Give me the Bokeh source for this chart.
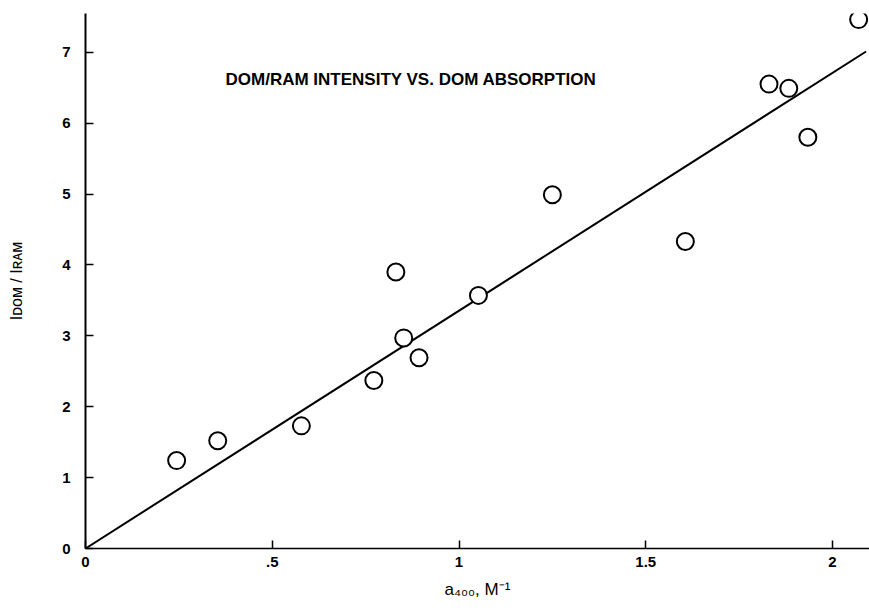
from bokeh.plotting import figure
from bokeh.models import FixedTicker, Label, Range1d
from bokeh.embed import file_html
from bokeh.resources import INLINE

# ---- data ----
a400 = [0.244, 0.354, 0.578, 0.772, 0.831, 0.852, 0.893, 1.052, 1.250, 1.606, 1.830, 1.883, 1.934, 2.070]
ratio = [1.24, 1.52, 1.73, 2.37, 3.90, 2.97, 2.69, 3.57, 4.99, 4.33, 6.55, 6.49, 5.80, 7.46]
fit_x = [0.0, 2.09]
fit_y = [0.0, 7.01]
x_ticks = [0, 0.5, 1, 1.5, 2]
x_tick_labels = ["0", ".5", "1", "1.5", "2"]
y_ticks = [0, 1, 2, 3, 4, 5, 6, 7]
y_tick_labels = ["0", "1", "2", "3", "4", "5", "6", "7"]
title_text = "DOM/RAM INTENSITY VS. DOM ABSORPTION"
x_label = "a\u2084\u2080\u2080, M\u207b\u00b9"
y_label = "I\u1d05\u1d0f\u1d0d / I\u0280\u1d00\u1d0d"

FONT = "Liberation Sans"
PX_X = 373.5   # pixels per x unit
PX_Y = 70.9    # pixels per y unit
W, H = 869, 608
LEFT, TOP, BOTTOM_AXIS = 85, 13, 548

p = figure(width=W, height=H, output_backend="svg", toolbar_location=None,
           x_range=Range1d(0, (W - LEFT) / PX_X),
           y_range=Range1d(0, (BOTTOM_AXIS - TOP) / PX_Y),
           min_border_left=LEFT, min_border_right=0, min_border_top=TOP,
           min_border_bottom=H - BOTTOM_AXIS)
p.outline_line_color = None
p.xgrid.visible = False
p.ygrid.visible = False
p.background_fill_color = "white"
p.border_fill_color = "white"

for ax in (p.xaxis[0], p.yaxis[0]):
    ax.axis_line_color = "black"
    ax.major_tick_line_color = "black"
    ax.minor_tick_line_color = None
    ax.major_tick_in = 8
    ax.major_tick_out = 0
    ax.major_label_text_font = FONT
    ax.major_label_text_font_size = "15px"
    ax.major_label_text_font_style = "bold"
    ax.major_label_text_color = "black"
    ax.major_tick_line_width = 1.5
    ax.axis_label_text_font = FONT
    ax.axis_label_text_font_style = "normal"
    ax.axis_label_text_color = "black"

p.xaxis[0].axis_line_width = 1.5
p.yaxis[0].axis_line_width = 2
p.xaxis[0].ticker = FixedTicker(ticks=x_ticks)
p.xaxis[0].major_label_overrides = {t: l for t, l in zip(x_ticks, x_tick_labels)}
p.yaxis[0].ticker = FixedTicker(ticks=y_ticks)
p.yaxis[0].major_label_overrides = {t: l for t, l in zip(y_ticks, y_tick_labels)}
p.xaxis[0].major_label_standoff = 8
p.yaxis[0].major_label_standoff = 15

p.xaxis[0].axis_label = x_label
p.xaxis[0].axis_label_text_font_size = "17px"
p.xaxis[0].axis_label_standoff = 10
p.yaxis[0].axis_label = y_label
p.yaxis[0].axis_label_text_font_size = "16px"
p.yaxis[0].axis_label_standoff = 34

p.line(fit_x, fit_y, line_color="black", line_width=2)
p.scatter(a400, ratio, size=17, marker="circle", fill_color="white",
          line_color="black", line_width=2)

# title inside plot
p.add_layout(Label(x=(225 - LEFT) / PX_X, y=(BOTTOM_AXIS - 78.5) / PX_Y, text=title_text,
                   text_font=FONT, text_font_size="17px", text_font_style="bold",
                   text_color="black", text_baseline="alphabetic", text_align="left"))

open("out.html", "w").write(file_html(p, INLINE))
